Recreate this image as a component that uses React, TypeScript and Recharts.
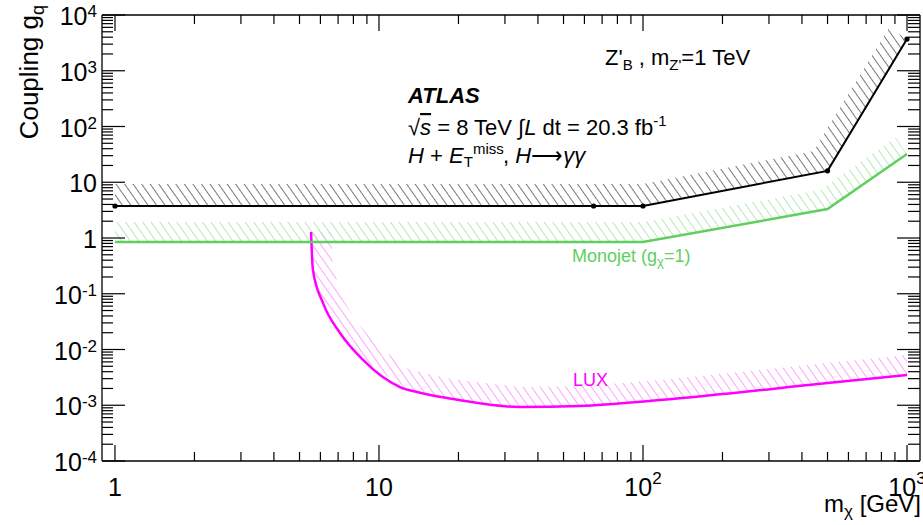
import React from 'react';
import { ComposedChart, Line, Area, XAxis, YAxis } from 'recharts';

// ---- axes ----
const xDomain = [0.893, 1120];
const yDomain = [1e-4, 1e4];
const xMajorTicks = [1, 10, 100, 1000];
const xTickLabels = ['1', '10', '10^2', '10^3'];
const yMajorTicks = [1e-4, 1e-3, 1e-2, 1e-1, 1, 10, 100, 1000, 10000];
const yTickLabels = ['10^-4', '10^-3', '10^-2', '10^-1', '1', '10', '10^2', '10^3', '10^4'];
const minorSteps = [2, 3, 4, 5, 6, 7, 8, 9];

// ---- ATLAS H + MET, H->gg limit (black) ----
const atlasMass = [1, 65, 100, 500, 1000];
const atlasCoupling = [3.75, 3.75, 3.75, 16, 3700];
const atlasBandMass = [1, 100, 444, 500, 855, 1000];
const atlasBandLow = [3.75, 3.75, 14.3, 16, 1014, 3700];
const atlasBandHigh = [9.3, 9.3, 36.4, 94, 5940, 3700];

// ---- Monojet (green) ----
const monojetMass = [1, 100, 500, 1000];
const monojetCoupling = [0.85, 0.85, 3.3, 32];
const monojetBandMass = [1, 100, 468, 500, 905, 1000];
const monojetBandLow = [0.85, 0.85, 3.13, 3.3, 23.2, 32];
const monojetBandHigh = [1.94, 1.94, 7.26, 9.04, 63.2, 32];

// ---- LUX (magenta) ----
const luxMass = [5.53, 5.62, 6.14, 7.12, 8.7, 12, 14.3, 18.1, 34.2, 57.7, 116, 500, 1000];
const luxCoupling = [1.28, 0.267, 0.068, 0.0198, 0.0065, 0.00212, 0.00168, 0.00135, 0.00093, 0.00097, 0.00124, 0.0025, 0.0035];
const luxBandMass = [5.53, 5.62, 6.14, 6.58, 6.69, 7.18, 8.17, 9.83, 12.9, 18.6, 34.6, 57.7, 116, 500, 1000];
const luxBandLow = [1.28, 0.267, 0.068, 0.0383, 0.0331, 0.019, 0.0091, 0.00426, 0.00196, 0.00133, 0.00093, 0.00097, 0.00124, 0.0025, 0.0035];
const luxBandHigh = [1.28, 1.28, 1.28, 1.28, 0.315, 0.091, 0.0325, 0.0121, 0.00446, 0.00296, 0.00212, 0.0022, 0.00284, 0.00573, 0.00796];

const GREEN = '#5fcf5f';
const MAGENTA = '#ff00ff';
const FONT = '"Liberation Sans", Arial, Helvetica, sans-serif';

const withMinors = (majors: number[]) =>
  [...majors, ...majors.slice(0, -1).flatMap((d) => minorSteps.map((s) => d * s))].sort((a, b) => a - b);
const xTicks = withMinors(xMajorTicks);
const yTicks = withMinors(yMajorTicks);

const pts = (xs: number[], ys: number[]) => xs.map((m, i) => ({ m, v: ys[i] }));
const band = (xs: number[], lo: number[], hi: number[]) => xs.map((m, i) => ({ m, r: [lo[i], hi[i]] }));

const atlasData = pts(atlasMass, atlasCoupling);
const monojetData = pts(monojetMass, monojetCoupling);
const luxData = pts(luxMass, luxCoupling);
const atlasBand = band(atlasBandMass, atlasBandLow, atlasBandHigh);
const monojetBand = band(monojetBandMass, monojetBandLow, monojetBandHigh);
const luxBand = band(luxBandMass, luxBandLow, luxBandHigh);

const isMajor = (v: number) => {
  const l = Math.log10(v);
  return Math.abs(l - Math.round(l)) < 1e-6;
};
const labelFor = (v: number, majors: number[], labels: string[]) => {
  const i = majors.findIndex((m) => Math.abs(m - v) / m < 1e-6);
  return i >= 0 ? labels[i] : null;
};
const pow = (label: string, supSize: number, supDy: number) => {
  const [base, exp] = label.split('^');
  if (exp === undefined) return base;
  return (
    <>
      {base}
      <tspan fontSize={supSize} dy={supDy}>{exp}</tspan>
    </>
  );
};

const LeftTick = (p: any) => {
  const { x, y, payload } = p;
  const v = payload.value;
  const major = isMajor(v);
  const ax = x + 5;
  const lab = labelFor(v, yMajorTicks, yTickLabels);
  return (
    <g>
      <line x1={ax} x2={ax + (major ? 23 : 11)} y1={y} y2={y} stroke="#000" strokeWidth={1.2} />
      {lab && (
        <text x={x} y={y + 10} textAnchor="end" fontSize={25} fontFamily={FONT} fill="#000">
          {pow(lab, 17, -8)}
        </text>
      )}
    </g>
  );
};
const RightTick = (p: any) => {
  const { x, y, payload } = p;
  const major = isMajor(payload.value);
  return <line x1={x} x2={x - (major ? 23 : 12)} y1={y} y2={y} stroke="#000" strokeWidth={1.2} />;
};
const BottomTick = (p: any) => {
  const { x, y, payload } = p;
  const v = payload.value;
  const major = isMajor(v);
  const lab = labelFor(v, xMajorTicks, xTickLabels);
  return (
    <g>
      <line x1={x} x2={x} y1={y} y2={y - (major ? 16 : 9)} stroke="#000" strokeWidth={1.2} />
      {lab && (
        <text x={x} y={y + 35} textAnchor="middle" fontSize={25} fontFamily={FONT} fill="#000">
          {pow(lab, 17, -12)}
        </text>
      )}
    </g>
  );
};
const TopTick = (p: any) => {
  const { x, y, payload } = p;
  const major = isMajor(payload.value);
  return <line x1={x} x2={x} y1={y} y2={y + (major ? 16 : 9)} stroke="#000" strokeWidth={1.2} />;
};

const axisLine = { stroke: '#000', strokeWidth: 1.3 };

const Hatch = ({ id, color }: { id: string; color: string }) => (
  <pattern id={id} patternUnits="userSpaceOnUse" width={7} height={7} patternTransform="rotate(-35)">
    <line x1={3.5} y1={0} x2={3.5} y2={7} stroke={color} strokeWidth={0.9} />
  </pattern>
);

export default function App() {
  return (
    <div style={{ position: 'absolute', left: 0, top: 0, width: 923, height: 525, background: '#fff', overflow: 'hidden' }}>
      <svg width={0} height={0} style={{ position: 'absolute' }}>
        <defs>
          <Hatch id="hatchBlack" color="#6a6a6a" />
          <Hatch id="hatchGreen" color="#aee6ae" />
          <Hatch id="hatchPink" color="#ff99ff" />
        </defs>
      </svg>
      <ComposedChart width={923} height={525} margin={{ top: 14, right: 2, bottom: 24, left: 42 }}>
        <XAxis
          xAxisId="b"
          orientation="bottom"
          type="number"
          dataKey="m"
          scale="log"
          domain={xDomain}
          allowDataOverflow
          ticks={xTicks}
          interval={0}
          tickSize={0}
          tickMargin={0}
          tickLine={false}
          tick={(p: any) => <BottomTick {...p} />}
          axisLine={axisLine}
          height={40}
        />
        <XAxis
          xAxisId="t"
          orientation="top"
          type="number"
          dataKey="m"
          scale="log"
          domain={xDomain}
          allowDataOverflow
          ticks={xTicks}
          interval={0}
          tickSize={0}
          tickMargin={0}
          tickLine={false}
          tick={(p: any) => <TopTick {...p} />}
          axisLine={axisLine}
          height={1}
        />
        <YAxis
          yAxisId="l"
          orientation="left"
          type="number"
          scale="log"
          domain={yDomain}
          allowDataOverflow
          ticks={yTicks}
          interval={0}
          tickSize={0}
          tickMargin={5}
          tickLine={false}
          tick={(p: any) => <LeftTick {...p} />}
          axisLine={axisLine}
          width={60}
        />
        <YAxis
          yAxisId="r"
          orientation="right"
          type="number"
          scale="log"
          domain={yDomain}
          allowDataOverflow
          ticks={yTicks}
          interval={0}
          tickSize={0}
          tickMargin={0}
          tickLine={false}
          tick={(p: any) => <RightTick {...p} />}
          axisLine={axisLine}
          width={1}
        />
        <Area data={luxBand} xAxisId="b" yAxisId="l" dataKey="r" type="linear" stroke="none" fill="url(#hatchPink)" fillOpacity={1} isAnimationActive={false} />
        <Area data={monojetBand} xAxisId="b" yAxisId="l" dataKey="r" type="linear" stroke="none" fill="url(#hatchGreen)" fillOpacity={1} isAnimationActive={false} />
        <Area data={atlasBand} xAxisId="b" yAxisId="l" dataKey="r" type="linear" stroke="none" fill="url(#hatchBlack)" fillOpacity={1} isAnimationActive={false} />
        <Line data={luxData} xAxisId="b" yAxisId="l" dataKey="v" type="monotone" stroke={MAGENTA} strokeWidth={2.5} dot={false} isAnimationActive={false} />
        <Line data={monojetData} xAxisId="b" yAxisId="l" dataKey="v" type="linear" stroke={GREEN} strokeWidth={2.5} dot={false} isAnimationActive={false} />
        <Line
          data={atlasData}
          xAxisId="b"
          yAxisId="l"
          dataKey="v"
          type="linear"
          stroke="#000"
          strokeWidth={2}
          dot={{ r: 2.6, fill: '#000', stroke: '#000', strokeWidth: 0 }}
          isAnimationActive={false}
        />
      </ComposedChart>
      <svg width={923} height={525} style={{ position: 'absolute', left: 0, top: 0, pointerEvents: 'none' }} fontFamily={FONT}>
        <text transform="translate(38 5) rotate(-90)" textAnchor="end" fontSize={26} fill="#000">
          Coupling g<tspan fontSize={18} dy={6}>q</tspan>
        </text>
        <text x={921} y={512} textAnchor="end" fontSize={24} fill="#000">
          m<tspan fontSize={17} dy={5}>χ</tspan>
          <tspan dy={-5}> [GeV]</tspan>
        </text>
        <text x={605} y={65} fontSize={22} fill="#000">
          Z'<tspan fontSize={15} dy={5}>B</tspan>
          <tspan dy={-5}> , m</tspan>
          <tspan fontSize={15} dy={5}>Z'</tspan>
          <tspan dy={-5}>=1 TeV</tspan>
        </text>
        <text x={408} y={103} fontSize={22} fontWeight="bold" fontStyle="italic" fill="#000">
          ATLAS
        </text>
        <text x={408} y={135} fontSize={22} fill="#000">
          √<tspan fontStyle="italic" style={{ textDecoration: 'overline' }}>s</tspan> = 8 TeV ∫<tspan fontStyle="italic">L</tspan> dt = 20.3 fb
          <tspan fontSize={15} dy={-9}>-1</tspan>
        </text>
        <text x={408} y={163} fontSize={22} fill="#000">
          <tspan fontStyle="italic">H</tspan> + <tspan fontStyle="italic">E</tspan>
          <tspan fontSize={15} dy={4}>T</tspan>
          <tspan x={473} dy={-13} fontSize={15}>miss</tspan>
          <tspan x={503} dy={9}>, </tspan>
          <tspan fontStyle="italic">H</tspan>⟶<tspan fontStyle="italic">γγ</tspan>
        </text>
        <text x={572} y={262} fontSize={18} fill={GREEN}>
          Monojet (g<tspan fontSize={13} dy={4}>χ</tspan>
          <tspan dy={-4}>=1)</tspan>
        </text>
        <text x={573} y={386} fontSize={18} fill={MAGENTA}>
          LUX
        </text>
      </svg>
    </div>
  );
}
